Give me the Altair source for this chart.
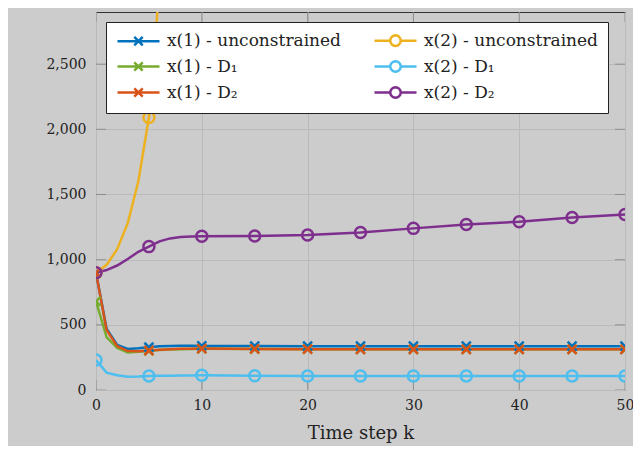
import math
import altair as alt
import pandas as pd

steps = [0, 1, 2, 3, 4, 5, 6, 7, 8, 9, 10, 15, 20, 25, 30, 35, 40, 45, 50]
x1_unc = [900, 470, 345, 315, 320, 328, 335, 338, 339, 339, 338, 337, 336, 336, 336, 336, 336, 336, 336]
x1_d1 = [680, 405, 322, 287, 293, 300, 306, 310, 313, 315, 316, 314, 313, 312, 312, 312, 312, 312, 312]
x1_d2 = [900, 460, 337, 299, 298, 303, 309, 313, 316, 317, 318, 315, 313, 312, 312, 312, 312, 312, 312]
steps_unc2 = [0, 1, 2, 3, 4, 5, 6]
x2_unc = [900, 960, 1080, 1280, 1600, 2090, 3100]
x2_d1 = [230, 133, 113, 102, 103, 107, 109, 110, 111, 112, 113, 110, 108, 107, 107, 107, 107, 107, 107]
x2_d2 = [900, 920, 955, 1005, 1060, 1100, 1140, 1163, 1173, 1178, 1180, 1181, 1189, 1209, 1240, 1270, 1291, 1324, 1347]

# legend fills column by column: first column x(1), second column x(2)
series_names = ["x(1) - unconstrained", "x(1) - D\u2081", "x(1) - D\u2082",
                "x(2) - unconstrained", "x(2) - D\u2081", "x(2) - D\u2082"]
colors = ["#0072BD", "#77AC30", "#D95319", "#EDB120", "#4DBEEE", "#7E2F8E"]
y_ticks = [0, 500, 1000, 1500, 2000, 2500]
x_ticks = [0, 10, 20, 30, 40, 50]

rows = []
def add(name, xs, ys, marker):
    for s, v in zip(xs, ys):
        rows.append({"series": name, "step": s, "value": v, "marker": marker})

add("x(1) - unconstrained", steps, x1_unc, "x")
add("x(2) - unconstrained", steps_unc2, x2_unc, "o")
add("x(1) - D\u2081", steps, x1_d1, "x")
add("x(2) - D\u2081", steps, x2_d1, "o")
add("x(1) - D\u2082", steps, x1_d2, "x")
add("x(2) - D\u2082", steps, x2_d2, "o")
df = pd.DataFrame(rows)
df["order"] = range(len(df))

W, H = 529, 378
xs = alt.Scale(domain=[0, 50], nice=False)
ys = alt.Scale(domain=[0, 2900], nice=False)
cscale = alt.Scale(domain=series_names, range=colors)

# legend glyphs: a short line with a marker in the middle (no arc commands)
cross_leg = "M-1,0L5,0M1.4,-0.6L2.6,0.6M1.4,0.6L2.6,-0.6"
poly = []
for i in range(17):
    a = math.pi + 2 * math.pi * i / 16
    poly.append("%.3f,%.3f" % (2 + 0.75 * math.cos(a), 0.75 * math.sin(a)))
circ_leg = "M-1,0L1.25,0M2.75,0L5,0M" + poly[0] + "L" + "L".join(poly[1:]) + "Z"
leg_paths = [cross_leg, cross_leg, cross_leg, circ_leg, circ_leg, circ_leg]

base = alt.Chart(df)
X = alt.X("step:Q", scale=xs, title="Time step k",
          axis=alt.Axis(values=x_ticks, format="d", labelFlush=False))
Y = alt.Y("value:Q", scale=ys, title=None,
          axis=alt.Axis(values=y_ticks, format=",d", labelFlush=False))

leg = alt.Legend(title=None, orient="top-left", offset=10, columns=2)
color_enc = alt.Color("series:N", scale=cscale, legend=leg)
shape_enc = alt.Shape("series:N", scale=alt.Scale(domain=series_names, range=leg_paths), legend=leg)

lines = base.mark_line(strokeWidth=2.5, clip=True).encode(
    x=X, y=Y, color=color_enc, detail="series:N", order="order:Q")

pts_x = base.transform_filter("datum.step % 5 == 0 && datum.marker == 'x'").mark_point(
    shape="M-1,-1L1,1M-1,1L1,-1", size=81, filled=False, strokeWidth=2.5, opacity=1, clip=True
).encode(x="step:Q", y="value:Q", color=color_enc)

pts_o = base.transform_filter("datum.step % 5 == 0 && datum.marker == 'o'").mark_point(
    shape="circle", size=121, filled=False, strokeWidth=2.5, opacity=1, clip=True
).encode(x="step:Q", y="value:Q", color=color_enc)

legend_layer = base.transform_filter("datum.step > 1000").mark_point(
    filled=False, strokeWidth=2.5, opacity=1
).encode(x="step:Q", y="value:Q", color=color_enc, shape=shape_enc)

ytick_df = pd.DataFrame({"v": y_ticks})
xtick_df = pd.DataFrame({"v": x_ticks})
tick_color = "#7a7a7a"
lt = alt.Chart(ytick_df).mark_tick(size=20, thickness=1, color=tick_color, clip=True).encode(
    y=alt.Y("v:Q", scale=ys), x=alt.value(0))
rt = alt.Chart(ytick_df).mark_tick(size=20, thickness=1, color=tick_color, clip=True).encode(
    y=alt.Y("v:Q", scale=ys), x=alt.value(W))
bt = alt.Chart(xtick_df).mark_tick(size=20, thickness=1, color=tick_color, clip=True).encode(
    x=alt.X("v:Q", scale=xs), y=alt.value(H))
tt = alt.Chart(xtick_df).mark_tick(size=20, thickness=1, color=tick_color, clip=True).encode(
    x=alt.X("v:Q", scale=xs), y=alt.value(0))

chart = alt.layer(lt, rt, bt, tt, lines, pts_x, pts_o, legend_layer).properties(
    width=W, height=H,
    autosize=alt.AutoSizeParams(type="none"),
    padding={"left": 88, "top": 4, "right": 8, "bottom": 56},
    background="#cccccc",
).configure_view(
    fill="#cccccc", stroke="#333333", strokeWidth=1
).configure_axis(
    grid=True, gridColor="#bababa", gridWidth=1, domain=False, ticks=False,
    labelFont="DejaVu Serif", labelFontSize=14, labelColor="#222222",
    titleFont="DejaVu Serif", titleFontSize=18, titleFontWeight="normal", titleColor="#222222",
).configure_axisY(labelPadding=10).configure_axisX(labelPadding=8, titlePadding=12).configure_legend(
    fillColor="white", strokeColor="#222222", padding=10, cornerRadius=0,
    symbolSize=196, symbolStrokeWidth=2.5, labelOffset=34, symbolFillColor="transparent",
    labelFont="DejaVu Serif", labelFontSize=17, labelColor="#222222",
    rowPadding=5, columnPadding=28, labelLimit=400,
)

chart.save("out.html", embed_options={"renderer": "svg", "actions": False})
